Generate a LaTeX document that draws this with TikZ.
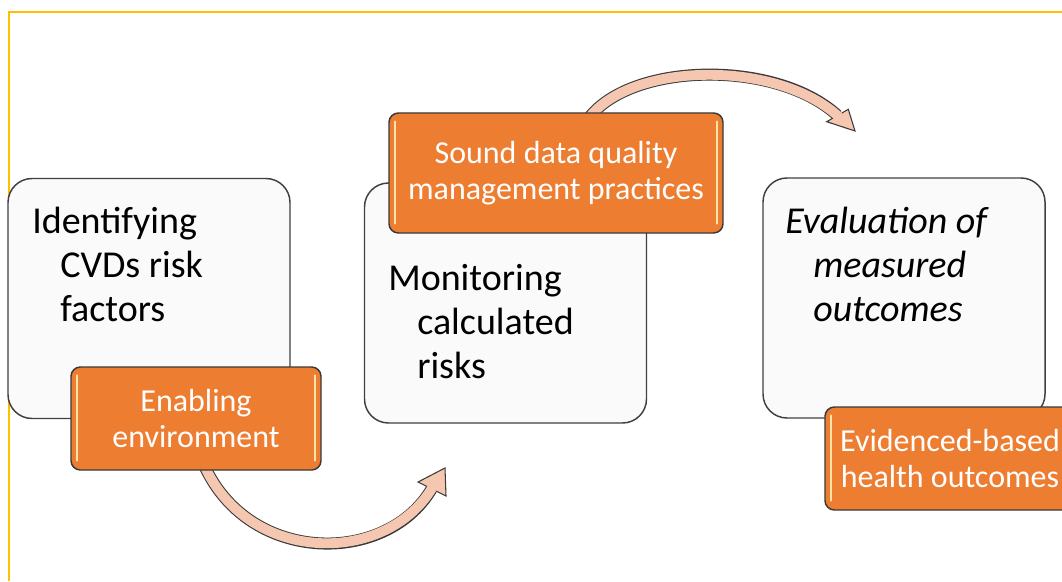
\documentclass[tikz,border=0pt]{standalone}
\usepackage{fontspec}
\setmainfont{Carlito}
\usetikzlibrary{calc}
\definecolor{framecol}{HTML}{FFC000}
\definecolor{boxfill}{HTML}{FAFAFA}
\definecolor{boxline}{HTML}{404040}
\definecolor{orangefill}{HTML}{ED7D31}
\definecolor{orangeline}{HTML}{3A3A3A}
\definecolor{glow}{HTML}{FFE4A8}
\definecolor{arrowfill}{HTML}{F6C7B0}
\definecolor{arrowline}{HTML}{3A3A3A}
\begin{document}
\begin{tikzpicture}[x=0.75pt,y=-0.75pt,
  whitebox/.style={draw=boxline, fill=boxfill, line width=1.1pt, rounded corners=18pt,
    minimum width=211.5pt, minimum height=180pt, inner sep=0pt},
  orangebox/.style={draw=orangeline, fill=orangefill, line width=1.1pt, rounded corners=7pt,
    inner sep=0pt, text=white, align=center, font=\fontsize{24}{26.5}\selectfont},
  steptext/.style={anchor=base west, inner sep=0pt, font=\fontsize{28.5}{33}\selectfont},
  glowline/.style={draw=glow, line width=1.3pt, line cap=round},
  arrowout/.style={draw=arrowline, line width=9pt},
  arrowin/.style={draw=arrowfill, line width=7.4pt},
  arrowtip/.style={fill=arrowfill, draw=arrowline, line width=0.8pt, line join=miter}
]
\useasboundingbox (0,0) rectangle (1062,581);
\clip (0,0) rectangle (1062,581);
\fill[white] (0,0) rectangle (1062,581);
\draw[framecol, line width=1.3pt] (9,581) -- (9,12) -- (1062,12);

% white step boxes
\node[whitebox] (b1) at (149,298.5) {};
\node[whitebox] (b2) at (505.5,303) {};
\node[whitebox] (b3) at (904,298) {};

% arrow 1 (lower)
\coordinate (a1s) at (200,455);
\coordinate (a1c1) at (240,565);
\coordinate (a1c2) at (385,568);
\coordinate (a1e) at (431.5,489);
\coordinate (h1t) at (445,468);
\coordinate (h1l) at (418,482);
\coordinate (h1r) at (446,496);
\draw[arrowout] (a1s) .. controls (a1c1) and (a1c2) .. (a1e);
\draw[arrowtip] (h1t) -- (h1l) -- (h1r) -- cycle;
\draw[arrowin, shorten >=-1.5pt] (a1s) .. controls (a1c1) and (a1c2) .. (a1e);

% arrow 2 (upper)
\coordinate (a2s) at (586,122);
\coordinate (a2c1) at (625,62);
\coordinate (a2c2) at (775,58);
\coordinate (a2e) at (837.5,115.5);
\coordinate (h2t) at (855,131);
\coordinate (h2l) at (826.7,121.7);
\coordinate (h2r) at (848.3,109.3);
\draw[arrowout] (a2s) .. controls (a2c1) and (a2c2) .. (a2e);
\draw[arrowtip] (h2t) -- (h2l) -- (h2r) -- cycle;
\draw[arrowin, shorten >=-1.5pt] (a2s) .. controls (a2c1) and (a2c2) .. (a2e);

% orange boxes
\node[orangebox, minimum width=187.5pt, minimum height=77.25pt] (o1) at (196,418.5) {Enabling\\environment};
\node[orangebox, minimum width=250.5pt, minimum height=90pt] (o2) at (556,173) {Sound data quality\\management practices};
\node[orangebox, minimum width=187.5pt, minimum height=77.25pt] (o3) at (950,458.5) {Evidenced-based\\health outcomes};

\foreach \o in {o1,o2,o3}{
  \draw[glowline] ($(\o.north west)+(7,9)$) -- ($(\o.south west)+(7,-10)$);
}
\foreach \o in {o1,o2}{
  \draw[glowline] ($(\o.north east)+(-7,9)$) -- ($(\o.south east)+(-7,-10)$);
}

% step texts
\node[steptext] (t1) at (32,233) {\vtop{\hbox{Identifying}\hbox{\hspace*{21pt}CVDs risk}\hbox{\hspace*{21pt}factors}}};
\node[steptext] (t2) at (388,290) {\vtop{\hbox{Monitoring}\hbox{\hspace*{21.75pt}calculated}\hbox{\hspace*{21.75pt}risks}}};
\node[steptext] (t3) at (785,233) {\itshape\vtop{\hbox{Evaluation of}\hbox{\hspace*{21pt}measured}\hbox{\hspace*{21pt}outcomes}}};
\end{tikzpicture}
\end{document}
